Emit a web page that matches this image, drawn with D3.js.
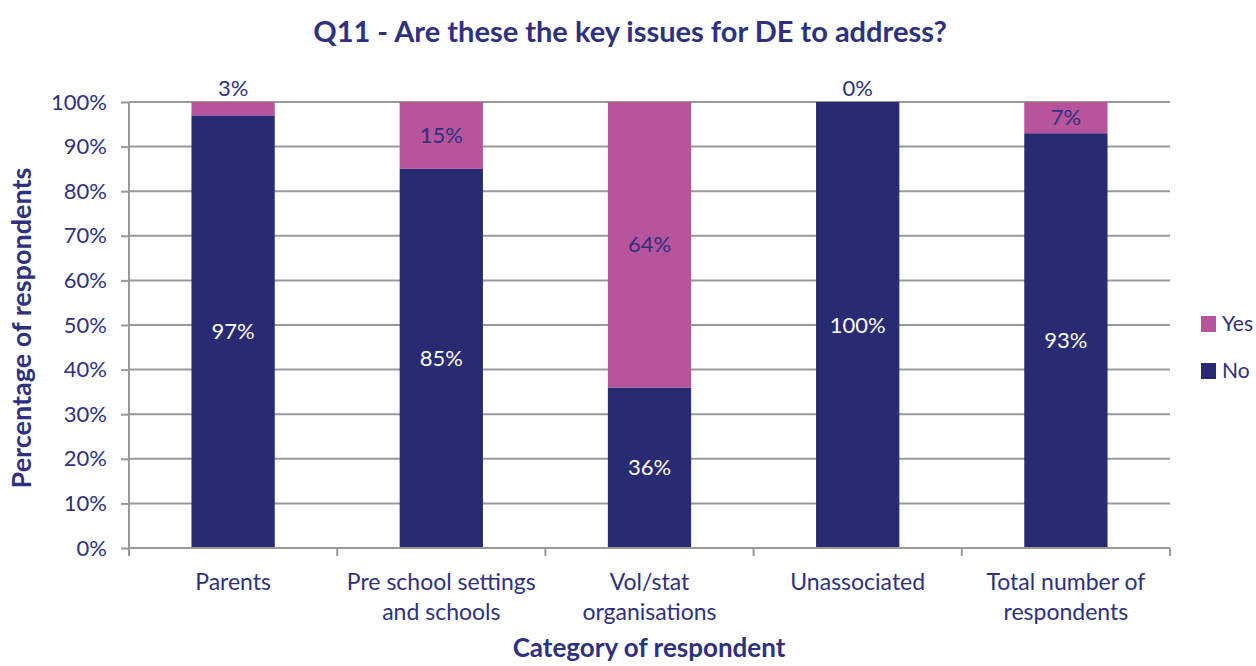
<!DOCTYPE html>
<html>
<head>
<meta charset="utf-8">
<script src="https://cdn.jsdelivr.net/npm/d3@7"></script>
<style>
  html, body { margin: 0; padding: 0; background: #fff; }
  svg text { font-family: Lato, "Open Sans", sans-serif; }
</style>
</head>
<body>
<svg id="chart" width="1256" height="666"></svg>
<script>
// Categories, with line breaks for the axis labels
const categories = [
  ["Parents"],
  ["Pre school settings", "and schools"],
  ["Vol/stat", "organisations"],
  ["Unassociated"],
  ["Total number of", "respondents"]
];
const noValues  = [97, 85, 36, 100, 93];
const yesValues = [3, 15, 64, 0, 7];
const yTicks = [0, 10, 20, 30, 40, 50, 60, 70, 80, 90, 100];
const seriesNames = ["Yes", "No"];

const colors = { Yes: "#B8549C", No: "#282A73" };
const textColor = "#2E3180";

const svg = d3.select("#chart");
const margin = { left: 129, right: 86, top: 102, bottom: 118 };
const W = 1256, H = 666;
const plotW = W - margin.left - margin.right;
const plotH = H - margin.top - margin.bottom;

const x = d3.scaleBand().domain(d3.range(categories.length)).range([0, plotW]).paddingInner(0.6).paddingOuter(0.3);
const y = d3.scaleLinear().domain([0, 100]).range([plotH, 0]);

const g = svg.append("g").attr("transform", `translate(${margin.left},${margin.top})`);

// Horizontal gridlines
g.selectAll("line.grid").data(yTicks).join("line")
  .attr("x1", 0).attr("x2", plotW)
  .attr("y1", d => y(d)).attr("y2", d => y(d))
  .attr("stroke", "#999").attr("stroke-width", 2);

// Stacked bars
const rows = categories.map((c, i) => ({ i, No: noValues[i], Yes: yesValues[i] }));
const stack = d3.stack().keys(["No", "Yes"])(rows);
stack.forEach(layer => {
  g.selectAll(null).data(layer).join("rect")
    .attr("x", d => x(d.data.i))
    .attr("width", x.bandwidth())
    .attr("y", d => y(d[1]))
    .attr("height", d => y(d[0]) - y(d[1]))
    .attr("fill", colors[layer.key]);
});

// Y axis
const yAxis = g.append("g").call(d3.axisLeft(y).tickValues(yTicks).tickFormat(d => d + "%").tickSize(8).tickPadding(14));
yAxis.select(".domain").attr("stroke", "#999").attr("stroke-width", 2).attr("d", `M0,${y(100)}V${plotH}`);
yAxis.selectAll(".tick line").attr("stroke", "#999").attr("stroke-width", 2);
yAxis.selectAll(".tick text").attr("fill", textColor).attr("font-size", 22).attr("font-family", "Lato, sans-serif");

// X axis baseline with category boundary ticks
g.append("line").attr("x1", 0).attr("x2", plotW).attr("y1", plotH).attr("y2", plotH)
  .attr("stroke", "#999").attr("stroke-width", 2);
g.selectAll("line.xtick").data(d3.range(categories.length + 1)).join("line")
  .attr("x1", d => d * (plotW / categories.length)).attr("x2", d => d * (plotW / categories.length))
  .attr("y1", plotH).attr("y2", plotH + 8)
  .attr("stroke", "#999").attr("stroke-width", 2);

// Category labels
categories.forEach((lines, i) => {
  const cx = x(i) + x.bandwidth() / 2;
  const t = g.append("text")
    .attr("x", cx)
    .attr("y", plotH + 42)
    .attr("text-anchor", "middle")
    .attr("fill", textColor)
    .attr("font-size", 23);
  lines.forEach((ln, k) => t.append("tspan").attr("x", cx).attr("dy", k === 0 ? 0 : 30).text(ln));
});

// Value labels
rows.forEach(d => {
  const cx = x(d.i) + x.bandwidth() / 2;
  g.append("text").attr("x", cx).attr("y", y(d.No / 2)).attr("dy", "0.35em")
    .attr("text-anchor", "middle").attr("fill", "#fff").attr("font-size", 22)
    .text(d.No + "%");
  const small = d.Yes < 5;
  g.append("text").attr("x", cx)
    .attr("y", small ? y(100) - 14 : y(d.No + d.Yes / 2))
    .attr("dy", "0.35em")
    .attr("text-anchor", "middle").attr("fill", textColor).attr("font-size", 22)
    .text(d.Yes + "%");
});

// Title
svg.append("text").attr("x", 630).attr("y", 42).attr("text-anchor", "middle")
  .attr("fill", textColor).attr("font-size", 29).attr("font-weight", "bold")
  .text("Q11 - Are these the key issues for DE to address?");

// Axis titles
svg.append("text").attr("x", 649).attr("y", 657).attr("text-anchor", "middle")
  .attr("fill", textColor).attr("font-size", 26).attr("font-weight", "bold")
  .text("Category of respondent");
svg.append("text").attr("transform", `translate(31,${margin.top + plotH / 2 + 3}) rotate(-90)`)
  .attr("text-anchor", "middle")
  .attr("fill", textColor).attr("font-size", 27).attr("font-weight", "bold")
  .text("Percentage of respondents");

// Legend
const legend = svg.append("g").attr("transform", "translate(1201,316)");
seriesNames.forEach((name, k) => {
  const row = legend.append("g").attr("transform", `translate(0,${k * 47})`);
  row.append("rect").attr("width", 15).attr("height", 16).attr("fill", colors[name]);
  row.append("text").attr("x", 21).attr("y", 8).attr("dy", "0.35em")
    .attr("fill", textColor).attr("font-size", 21).text(name);
});
</script>
</body>
</html>
